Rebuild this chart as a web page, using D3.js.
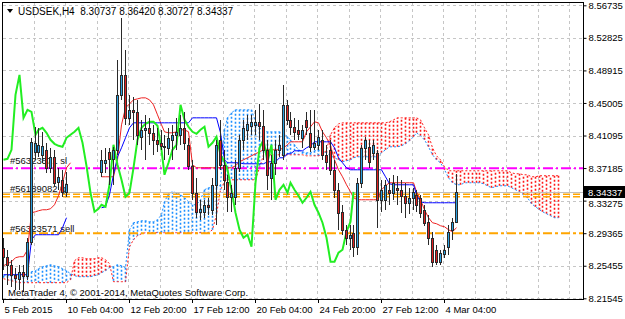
<!DOCTYPE html>
<html>
<head>
<meta charset="utf-8">
<script src="https://cdn.jsdelivr.net/npm/d3@7"></script>
<style>
  body { margin: 0; background: #fff; }
  svg { display: block; font-family: "Liberation Sans", Arial, sans-serif; }
</style>
</head>
<body>
<div id="chart"></div>
<script>
// ---- data (USDSEK, H4) ----
const timeLabels = ['5 Feb 2015', '10 Feb 04:00', '12 Feb 20:00', '17 Feb 12:00', '20 Feb 04:00', '24 Feb 20:00', '27 Feb 12:00', '4 Mar 04:00'];
const timeIdx = [0, 16, 32, 48, 64, 80, 96, 112];
const priceTicks = [8.56735, 8.52825, 8.48915, 8.45005, 8.41095, 8.37185, 8.33275, 8.29365, 8.25455, 8.21545];

const opens = [8.2762, 8.2654, 8.2558, 8.2438, 8.2390, 8.2474, 8.2426, 8.2834, 8.3914, 8.3914,
  8.3878, 8.3938, 8.3722, 8.3854, 8.3554, 8.3578, 8.3434, null, null, null,
  null, null, null, null, null, 8.3674, 8.3782, 8.3914, 8.3830, 8.3938,
  8.4598, 8.4838, 8.4322, 8.4418, 8.4394, 8.4094, 8.4178, 8.4202, 8.4142, 8.4058,
  8.4022, 8.3986, 8.3962, 8.4058, 8.4118, 8.4118, 8.4202, 8.3998, 8.3746, 8.3422,
  8.3194, 8.3194, 8.3278, 8.3218, 8.3518, 8.4058, 8.3758, 8.3554, 8.3374, 8.3374,
  8.3722, 8.4058, 8.4178, 8.4226, 8.4238, 8.4274, 8.4226, 8.3938, 8.3602, 8.3782,
  8.3938, 8.3878, 8.4478, 8.4298, 8.4214, 8.4178, 8.4082, 8.4298, 8.4142, 8.3974,
  8.3998, 8.4058, 8.3878, 8.3938, 8.3698, 8.3458, 8.3194, 8.2978, 8.2882, 8.2942,
  8.2774, 8.3542, 8.3962, 8.3974, 8.3902, 8.3902, 8.3338, 8.3338, 8.3458, 8.3422,
  8.3482, 8.3458, 8.3386, 8.3302, 8.3362, 8.3398, 8.3362, 8.3218, 8.3074, 8.2882,
  8.2738, 8.2594, 8.2690, 8.2774, 8.2978, 8.30737];
const highs = [8.2882, 8.2738, 8.2618, 8.2522, 8.2558, 8.2558, 8.2882, 8.4082, 8.4214, 8.4202,
  8.4154, 8.4022, 8.3962, 8.3938, 8.3722, 8.3698, 8.3674, null, null, null,
  null, null, null, null, null, 8.3938, 8.3962, 8.3962, 8.3974, 8.5018,
  8.5522, 8.5138, 8.4598, 8.4574, 8.4538, 8.4298, 8.4358, 8.4322, 8.4238, 8.4202,
  8.4178, 8.4118, 8.4202, 8.4238, 8.4322, 8.4358, 8.4394, 8.4082, 8.3818, 8.3602,
  8.3338, 8.3338, 8.3362, 8.3602, 8.4058, 8.4298, 8.3938, 8.3638, 8.3518, 8.3818,
  8.4118, 8.4298, 8.4358, 8.4358, 8.4418, 8.4490, 8.4418, 8.4058, 8.3878, 8.4058,
  8.4118, 8.4718, 8.4538, 8.4394, 8.4322, 8.4298, 8.4238, 8.4394, 8.4418, 8.4418,
  8.4178, 8.4178, 8.3998, 8.4058, 8.3818, 8.3542, 8.3278, 8.3038, 8.3038, 8.3038,
  8.3602, 8.3998, 8.4094, 8.4058, 8.4058, 8.3938, 8.3578, 8.3578, 8.3602, 8.3638,
  8.3626, 8.3578, 8.3542, 8.3482, 8.3482, 8.3458, 8.3398, 8.3278, 8.3158, 8.2954,
  8.2798, 8.2738, 8.2798, 8.3038, 8.3122, 8.36420];
const lows = [8.2498, 8.2318, 8.2294, 8.2258, 8.2258, 8.2234, 8.2378, 8.2798, 8.3818, 8.3854,
  8.3782, 8.3662, 8.3662, 8.3494, 8.3458, 8.3374, 8.3374, null, null, null,
  null, null, null, null, null, 8.3614, 8.3662, 8.3518, 8.3518, 8.3878,
  8.4538, 8.4238, 8.4238, 8.4058, 8.3998, 8.3938, 8.3818, 8.3998, 8.3878, 8.3914,
  8.3938, 8.3818, 8.3878, 8.3818, 8.3938, 8.3998, 8.3938, 8.3698, 8.3338, 8.3122,
  8.3098, 8.3122, 8.3158, 8.3158, 8.3038, 8.3698, 8.3458, 8.3194, 8.3194, 8.3278,
  8.3674, 8.3938, 8.4058, 8.4118, 8.4118, 8.4058, 8.3818, 8.3458, 8.3338, 8.3638,
  8.3854, 8.3818, 8.4238, 8.4118, 8.4058, 8.4058, 8.3962, 8.4118, 8.3914, 8.3938,
  8.3938, 8.3818, 8.3698, 8.3638, 8.3362, 8.2978, 8.2918, 8.2798, 8.2738, 8.2654,
  8.2678, 8.3482, 8.3818, 8.3722, 8.3818, 8.3002, 8.3194, 8.3218, 8.3278, 8.3338,
  8.3278, 8.3182, 8.3122, 8.3170, 8.3218, 8.3194, 8.3122, 8.3026, 8.2798, 8.2534,
  8.2558, 8.2558, 8.2642, 8.2678, 8.2858, 8.30727];
const closes = [8.2654, 8.2558, 8.2438, 8.2402, 8.2474, 8.2426, 8.2834, 8.4034, 8.4022, 8.3998,
  8.3986, 8.3722, 8.3854, 8.3542, 8.3614, 8.3434, 8.3530, null, null, null,
  null, null, null, null, null, 8.3818, 8.3818, 8.3830, 8.3938, 8.4598,
  8.4838, 8.4322, 8.4418, 8.4394, 8.4118, 8.4178, 8.4202, 8.4142, 8.4058, 8.4010,
  8.3986, 8.3974, 8.4082, 8.4118, 8.4154, 8.4202, 8.4022, 8.3746, 8.3422, 8.3194,
  8.3230, 8.3278, 8.3254, 8.3518, 8.3998, 8.3758, 8.3578, 8.3374, 8.3422, 8.3722,
  8.4058, 8.4202, 8.4250, 8.4274, 8.4274, 8.4226, 8.3938, 8.3638, 8.3782, 8.3938,
  8.3998, 8.4478, 8.4298, 8.4214, 8.4154, 8.4130, 8.4178, 8.4214, 8.3974, 8.4022,
  8.4094, 8.3878, 8.3794, 8.3698, 8.3458, 8.3182, 8.2978, 8.2882, 8.2918, 8.2774,
  8.3542, 8.3962, 8.4058, 8.3794, 8.3998, 8.3338, 8.3458, 8.3518, 8.3422, 8.3542,
  8.3458, 8.3386, 8.3302, 8.3362, 8.3434, 8.3278, 8.3182, 8.3062, 8.2882, 8.2594,
  8.2594, 8.2702, 8.2738, 8.2954, 8.3074, 8.34337];

// Ichimoku lines as drawn
const tenkan = [8.2546, 8.2570, 8.2594, 8.2642, 8.2654, 8.2654, 8.2738, 8.3182, 8.3194, 8.3206,
  8.3218, 8.3218, 8.3230, 8.3278, 8.3386, 8.3542, 8.3722, 8.3782, null, null,
  null, null, null, null, null, 8.3614, 8.3614, 8.3614, 8.3614, 8.3818,
  8.4238, 8.4442, 8.4490, 8.4538, 8.4550, 8.4562, 8.4562, 8.4538, 8.4478, 8.4358,
  8.4238, 8.4154, 8.4142, 8.4142, 8.4154, 8.4178, 8.4178, 8.4154, 8.3758, 8.3722,
  8.3722, 8.3722, 8.3722, 8.3722, 8.3722, 8.3722, 8.3722, 8.3722, 8.3722, 8.3746,
  8.3794, 8.3818, 8.3842, 8.3866, 8.3890, 8.3914, 8.3938, 8.3938, 8.3938, 8.3938,
  8.3938, 8.3962, 8.3998, 8.4034, 8.4034, 8.4034, 8.4034, 8.4154, 8.4214, 8.4274,
  8.4262, 8.4154, 8.4082, 8.3986, 8.3818, 8.3698, 8.3614, 8.3518, 8.3434, 8.3362,
  8.3338, 8.3338, 8.3338, 8.3338, 8.3338, 8.3338, 8.3458, 8.3506, 8.3542, 8.3542,
  8.3542, 8.3542, 8.3542, 8.3542, 8.3542, 8.3434, 8.3338, 8.3218, 8.3122, 8.3062,
  8.3050, 8.3026, 8.3014, 8.2978, 8.2954, 8.3002];
const kijun = [8.2438, 8.2438, 8.2438, 8.2438, 8.2438, 8.2438, 8.2438, 8.2858, 8.2918, 8.2918,
  8.2918, 8.2918, 8.2918, 8.2918, 8.2918, 8.3002, 8.3122, null, null, null,
  null, null, null, null, null, 8.3242, 8.3254, 8.3398, 8.3638, 8.3854,
  8.3962, 8.4082, 8.4202, 8.4262, 8.4262, 8.4262, 8.4262, 8.4262, 8.4262, 8.4262,
  8.4262, 8.4262, 8.4262, 8.4262, 8.4262, 8.4262, 8.4262, 8.4262, 8.4322, 8.4322,
  8.4322, 8.4322, 8.4322, 8.4322, 8.4322, 8.4142, 8.3818, 8.3782, 8.3782, 8.3782,
  8.3782, 8.3770, 8.3770, 8.3770, 8.3770, 8.3770, 8.3770, 8.3794, 8.3794, 8.3794,
  8.3842, 8.3842, 8.3890, 8.3890, 8.3926, 8.3926, 8.3926, 8.3962, 8.3986, 8.4034,
  8.4034, 8.4034, 8.4034, 8.4034, 8.3962, 8.3842, 8.3782, 8.3722, 8.3698, 8.3698,
  8.3698, 8.3698, 8.3698, 8.3698, 8.3698, 8.3698, 8.3698, 8.3614, 8.3530, 8.3518,
  8.3518, 8.3518, 8.3518, 8.3518, 8.3518, 8.3398, 8.3314, 8.3302, 8.3302, 8.3302,
  8.3302, 8.3302, 8.3302, 8.3302, 8.3302, 8.3302];
const spanA = [8.2426, 8.2426, 8.2438, 8.2438, 8.2450, 8.2462, 8.2462, 8.2474, 8.2486, 8.2510,
  8.2534, 8.2546, 8.2558, 8.2546, 8.2534, 8.2510, 8.2486, 8.2450, 8.2426, 8.2414,
  8.2414, 8.2414, 8.2414, 8.2426, 8.2438, 8.2462, 8.2486, 8.2522, 8.2534, 8.2558,
  8.2546, 8.2522, 8.2978, 8.3062, 8.3074, 8.3086, 8.3086, 8.3074, 8.3074, 8.3098,
  8.3158, 8.3314, 8.3410, 8.3434, 8.3422, 8.3398, 8.3362, 8.3314, 8.3278, 8.3278,
  8.3338, 8.3458, 8.3482, 8.3482, 8.3482, 8.3518, 8.4178, 8.4322, 8.4382, 8.4418,
  8.4418, 8.4418, 8.4418, 8.4418, 8.4274, 8.4202, 8.4166, 8.4154, 8.4154, 8.4154,
  8.4154, 8.4130, 8.4094, 8.4058, 8.3998, 8.3938, 8.3914, 8.3902, 8.3902, 8.3926,
  8.3938, 8.3914, 8.3902, 8.3866, 8.3842, 8.3818, 8.3794, 8.3806, 8.3818, 8.3842,
  8.3854, 8.3854, 8.3854, 8.3854, 8.3854, 8.3854, 8.3902, 8.3938, 8.3974, 8.3974,
  8.3974, 8.3986, 8.4010, 8.4046, 8.4094, 8.4142, 8.4106, 8.4058, 8.3974, 8.3878,
  8.3818, 8.3782, 8.3698, 8.3602, 8.3542, 8.3518, 8.3518, 8.3542, 8.3542, 8.3542,
  8.3542, 8.3542, 8.3530, 8.3506, 8.3482, 8.3494, 8.3506, 8.3506, 8.3506, 8.3482,
  8.3458, 8.3434, 8.3398, 8.3362, 8.3290, 8.3254, 8.3218, 8.3194, 8.3170, 8.3146,
  8.3122, 8.3122];
const spanB = [8.2390, 8.2378, 8.2366, 8.2354, 8.2342, 8.2342, 8.2342, 8.2342, 8.2342, 8.2342,
  8.2342, 8.2342, 8.2342, 8.2342, 8.2342, 8.2342, 8.2342, 8.2378, 8.2606, 8.2642,
  8.2642, 8.2630, 8.2630, 8.2630, 8.2642, 8.2642, 8.2618, 8.2570, 8.2354, 8.2354,
  8.2354, 8.2354, 8.2774, 8.2858, 8.2906, 8.2930, 8.2942, 8.2942, 8.2942, 8.2942,
  8.2942, 8.2942, 8.2942, 8.2942, 8.2942, 8.2942, 8.2942, 8.2942, 8.2942, 8.2942,
  8.2942, 8.2942, 8.2942, 8.2978, 8.3158, 8.3458, 8.3554, 8.3578, 8.3578, 8.3578,
  8.3578, 8.3578, 8.3578, 8.3578, 8.3578, 8.3722, 8.3878, 8.3878, 8.3878, 8.3878,
  8.3878, 8.3878, 8.3878, 8.3878, 8.3878, 8.3878, 8.3878, 8.3866, 8.3866, 8.3866,
  8.3866, 8.3878, 8.3938, 8.4118, 8.4202, 8.4250, 8.4262, 8.4262, 8.4262, 8.4262,
  8.4262, 8.4262, 8.4262, 8.4262, 8.4262, 8.4262, 8.4262, 8.4262, 8.4274, 8.4298,
  8.4322, 8.4322, 8.4322, 8.4322, 8.4322, 8.4322, 8.4298, 8.4202, 8.4118, 8.3962,
  8.3866, 8.3818, 8.3734, 8.3686, 8.3686, 8.3686, 8.3686, 8.3686, 8.3686, 8.3686,
  8.3686, 8.3686, 8.3686, 8.3686, 8.3686, 8.3686, 8.3686, 8.3686, 8.3686, 8.3662,
  8.3650, 8.3650, 8.3638, 8.3638, 8.3614, 8.3614, 8.3626, 8.3626, 8.3626, 8.3626,
  8.3626, 8.3626];
const chikouShift = 26;

// horizontal order lines and their labels
const levelPrices = [8.3716, 8.3404, 8.3375, 8.2935];
const bidPrice = 8.34337;
const orderLabels = ['#56323571 sl', '#56189082 tp', '#56323571 sell'];
const orderLabelPrices = [8.3767, 8.3431, 8.2951];

const titleText = 'USDSEK,H4  8.30737 8.36420 8.30727 8.34337';
const copyText = 'MetaTrader 4, \u00a9 2001-2014, MetaQuotes Software Corp.';

// ---- layout ----
const width = 625, height = 319;
const plotL = 3, plotR = 583, plotT = 3, plotB = 299;

const x = d3.scaleLinear().domain([0, 16]).range([3, 66]);
const y = d3.scaleLinear().domain([8.21545, 8.56735]).range([298.3, 5.3]);
const px = v => Math.round(x(v)) + 0.5;

const svg = d3.select('#chart').append('svg')
  .attr('width', width)
  .attr('height', height);

svg.append('rect').attr('width', width).attr('height', height).attr('fill', '#fff');

svg.append('defs').append('clipPath').attr('id', 'plotClip')
  .append('rect').attr('x', plotL).attr('y', plotT).attr('width', plotR - plotL).attr('height', plotB - plotT);

const plot = svg.append('g').attr('clip-path', 'url(#plotClip)');

// grid
plot.selectAll('.hgrid')
  .data(priceTicks)
  .enter().append('line')
  .attr('x1', plotL).attr('x2', plotR)
  .attr('y1', d => Math.round(y(d)) + 0.5).attr('y2', d => Math.round(y(d)) + 0.5)
  .attr('stroke', '#c6c6c6').attr('stroke-dasharray', '3,3');

plot.selectAll('.vgrid')
  .data(d3.range(8, 145, 8))
  .enter().append('line')
  .attr('x1', d => px(d) - 1).attr('x2', d => px(d) - 1)
  .attr('y1', plotT).attr('y2', plotB)
  .attr('stroke', '#c6c6c6').attr('stroke-dasharray', '3,3');

// cloud hatch
const cloudIdx = d3.range(spanA.length);
plot.selectAll('.hatch')
  .data(cloudIdx)
  .enter().append('line')
  .attr('x1', d => px(d)).attr('x2', d => px(d))
  .attr('y1', d => y(spanA[d])).attr('y2', d => y(spanB[d]))
  .attr('stroke', d => spanA[d] >= spanB[d] ? '#1e90ff' : '#ff1a1a')
  .attr('stroke-width', 1.6)
  .attr('stroke-dasharray', '2,2');

const lineOf = arr => d3.line()
  .defined(i => arr[i] != null)
  .x(i => px(i))
  .y(i => y(arr[i]));

plot.append('path').datum(cloudIdx)
  .attr('d', lineOf(spanA))
  .attr('fill', 'none').attr('stroke', '#1e90ff').attr('stroke-dasharray', '2,2');
plot.append('path').datum(cloudIdx)
  .attr('d', lineOf(spanB))
  .attr('fill', 'none').attr('stroke', '#ff1a1a').attr('stroke-dasharray', '2,2');

// order lines
const levelStyles = [
  { color: '#ff00ff', dash: '10,3,2,3', w: 2 },
  { color: '#ffa500', dash: '7,3', w: 1.5 },
  { color: '#ffa500', dash: '7,3', w: 1.5 },
  { color: '#ffa500', dash: '9,3,3,3', w: 2 }
];
plot.selectAll('.level')
  .data(levelPrices)
  .enter().append('line')
  .attr('x1', plotL).attr('x2', plotR)
  .attr('y1', d => y(d)).attr('y2', d => y(d))
  .attr('stroke', (d, i) => levelStyles[i].color)
  .attr('stroke-width', (d, i) => levelStyles[i].w)
  .attr('stroke-dasharray', (d, i) => levelStyles[i].dash);

// bid line
plot.append('line')
  .attr('x1', plotL).attr('x2', plotR)
  .attr('y1', Math.round(y(bidPrice)) + 0.5).attr('y2', Math.round(y(bidPrice)) + 0.5)
  .attr('stroke', '#c0c0c0');

// order labels
plot.selectAll('.olabel')
  .data(orderLabels)
  .enter().append('text')
  .attr('x', 10)
  .attr('y', (d, i) => y(orderLabelPrices[i]))
  .style('font-size', '9.5px')
  .attr('fill', '#111')
  .text(d => d);

// tenkan / kijun / chikou
const barIdx = d3.range(closes.length);
plot.append('path').datum(barIdx)
  .attr('d', lineOf(tenkan))
  .attr('fill', 'none').attr('stroke', '#ee2222');
plot.append('path').datum(barIdx)
  .attr('d', lineOf(kijun))
  .attr('fill', 'none').attr('stroke', '#0000ff');

const chikou = d3.range(closes.length - chikouShift).map(j => closes[j + chikouShift]);
plot.append('path').datum(d3.range(chikou.length))
  .attr('d', lineOf(chikou))
  .attr('fill', 'none').attr('stroke', '#22ee22').attr('stroke-width', 2);

// candles
const bars = barIdx.filter(i => opens[i] != null);
const candle = plot.selectAll('.candle')
  .data(bars)
  .enter().append('g')
  .attr('class', 'candle');

candle.append('line')
  .attr('x1', i => px(i)).attr('x2', i => px(i))
  .attr('y1', i => Math.round(y(highs[i]))).attr('y2', i => Math.round(y(lows[i])))
  .attr('stroke', '#2a2a2a');

candle.append('rect')
  .attr('x', i => px(i) - 1)
  .attr('width', 2)
  .attr('y', i => Math.round(y(Math.max(opens[i], closes[i]))) + 0.5)
  .attr('height', i => Math.max(0, Math.round(y(Math.min(opens[i], closes[i]))) - Math.round(y(Math.max(opens[i], closes[i])))))
  .attr('fill', i => closes[i] >= opens[i] ? '#2b9fe0' : '#e02020')
  .attr('stroke', '#2a2a2a');

// copyright
plot.append('text')
  .attr('x', 8).attr('y', 296)
  .style('font-size', '9.5px')
  .attr('fill', '#000')
  .text(copyText);

// frame
svg.append('rect')
  .attr('x', plotL - 0.5).attr('y', plotT - 0.5)
  .attr('width', plotR - plotL + 1).attr('height', plotB - plotT + 1)
  .attr('fill', 'none').attr('stroke', '#000');

// axes
const yAxis = svg.append('g')
  .attr('transform', `translate(${plotR + 0.5},0)`)
  .call(d3.axisRight(y).tickValues(priceTicks).tickFormat(d3.format('.5f')).tickSize(3).tickSizeOuter(0));
yAxis.attr('font-family', null).attr('font-size', null);
yAxis.select('.domain').remove();
yAxis.selectAll('.tick line').attr('stroke', '#000');
yAxis.selectAll('.tick text')
  .attr('x', 5)
  .attr('dy', d => Math.abs(y(d) - y(bidPrice)) < 12 ? '0.6em' : '0.32em')
  .style('font-size', '9.5px').attr('fill', '#000');

const xAxis = svg.append('g')
  .attr('transform', `translate(0,${plotB})`)
  .call(d3.axisBottom(x).tickValues(timeIdx).tickFormat((d, i) => timeLabels[i]).tickSize(4).tickSizeOuter(0));
xAxis.attr('font-family', null).attr('font-size', null);
xAxis.select('.domain').remove();
xAxis.selectAll('.tick line').attr('stroke', '#000');
xAxis.selectAll('.tick text')
  .attr('text-anchor', 'start')
  .attr('x', 1).attr('y', 7)
  .style('font-size', '9.5px').attr('fill', '#000');

// current price tag
svg.append('rect')
  .attr('x', plotR + 1).attr('y', Math.round(y(bidPrice)) - 6)
  .attr('width', 41).attr('height', 12)
  .attr('fill', '#000');
svg.append('text')
  .attr('x', plotR + 5).attr('y', Math.round(y(bidPrice)) + 4)
  .style('font-size', '9.5px')
  .attr('fill', '#fff')
  .text(d3.format('.5f')(bidPrice));

// title
svg.append('path')
  .attr('d', 'M7,9 L13,9 L10,13 Z')
  .attr('fill', '#000');
svg.append('text')
  .attr('x', 18).attr('y', 15)
  .style('font-size', '10px')
  .attr('fill', '#000')
  .attr('xml:space', 'preserve')
  .style('white-space', 'pre')
  .text(titleText);
</script>
</body>
</html>
